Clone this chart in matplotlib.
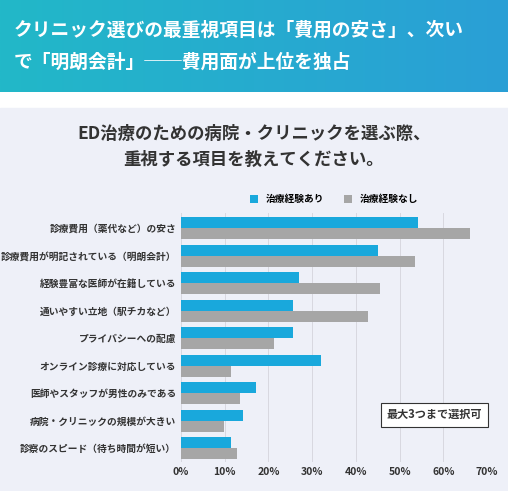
import numpy as np
import matplotlib.pyplot as plt
from matplotlib.patches import Rectangle

plt.rcParams['font.family'] = ['Noto Sans CJK JP', 'DejaVu Sans']

categories = ['診療費用（薬代など）の安さ', '診療費用が明記されている（明朗会計）', '経験豊富な医師が在籍している',
              '通いやすい立地（駅チカなど）', 'プライバシーへの配慮', 'オンライン診療に対応している',
              '医師やスタッフが男性のみである', '病院・クリニックの規模が大きい', '診察のスピード（待ち時間が短い）']
with_treatment = [54.2, 45.1, 27.0, 25.6, 25.6, 32.0, 17.2, 14.2, 11.4]
without_treatment = [66.1, 53.5, 45.5, 42.8, 21.3, 11.4, 13.5, 9.8, 12.8]
series_names = ['治療経験あり', '治療経験なし']
xticks = [0, 10, 20, 30, 40, 50, 60, 70]

W, H = 508, 491
fig = plt.figure(figsize=(W / 100, H / 100), dpi=100)

# background layers
bg = fig.add_axes([0, 0, 1, 1])
bg.set_xlim(0, W)
bg.set_ylim(H, 0)
bg.axis('off')
grad = np.linspace(0, 1, 256)[None, :]
cmap = plt.matplotlib.colors.LinearSegmentedColormap.from_list('b', ['#22b8c8', '#2a9fd6'])
bg.imshow(grad, cmap=cmap, extent=[0, W, 92, 0], aspect='auto')
bg.add_patch(Rectangle((0, 108), W, H - 108, color='#eef0f8'))
bg.text(14, 30, 'クリニック選びの最重視項目は「費用の安さ」、次い', color='white', fontsize=13.5,
        fontweight='bold', va='center')
bg.text(14, 62, 'で「明朗会計」──費用面が上位を独占', color='white', fontsize=13.5,
        fontweight='bold', va='center')
bg.text(W / 2, 134, 'ED治療のための病院・クリニックを選ぶ際、', fontsize=12.5, fontweight='bold',
        ha='center', va='center', color='#333333')
bg.text(W / 2, 160, '重視する項目を教えてください。', fontsize=12.5, fontweight='bold',
        ha='center', va='center', color='#333333')

blue, gray = '#19a8dc', '#a6a6a6'
ax = fig.add_axes([181 / W, 29 / H, 306 / W, 184 / H * 1.35])
ax.set_position([181 / W, 29 / H, 306 / W, (462 - 213) / H])
y = np.arange(len(categories))
h = 0.4
ax.barh(y - h / 2, with_treatment, height=h, color=blue, label=series_names[0], zorder=2)
ax.barh(y + h / 2, without_treatment, height=h, color=gray, label=series_names[1], zorder=2)
ax.set_ylim(len(categories) - 0.5, -0.55)
ax.set_xlim(0, 70)
ax.set_xticks(xticks)
ax.set_xticklabels([f'{v}%' for v in xticks], fontsize=7.5, fontweight='bold', color='#333333')
ax.set_yticks(y)
ax.set_yticklabels(categories, fontsize=7, fontweight='bold', color='#333333')
ax.tick_params(length=0)
ax.set_facecolor('none')
ax.grid(axis='x', color='#d8d8e0', linewidth=0.7, zorder=0)
for s in ax.spines.values():
    s.set_visible(False)
ax.legend(loc='lower center', bbox_to_anchor=(0.5, 1.0), ncol=2, frameon=False, fontsize=7,
          handlelength=0.8, handleheight=0.8, prop={'weight': 'bold', 'size': 7})
ax.text(0.985, 0.19, '最大3つまで選択可', transform=ax.transAxes, ha='right', va='center',
        fontsize=8, fontweight='bold', color='#333333',
        bbox=dict(boxstyle='square,pad=0.5', fc='white', ec='#333333', lw=0.8))

fig.savefig('out.png', dpi=100)
